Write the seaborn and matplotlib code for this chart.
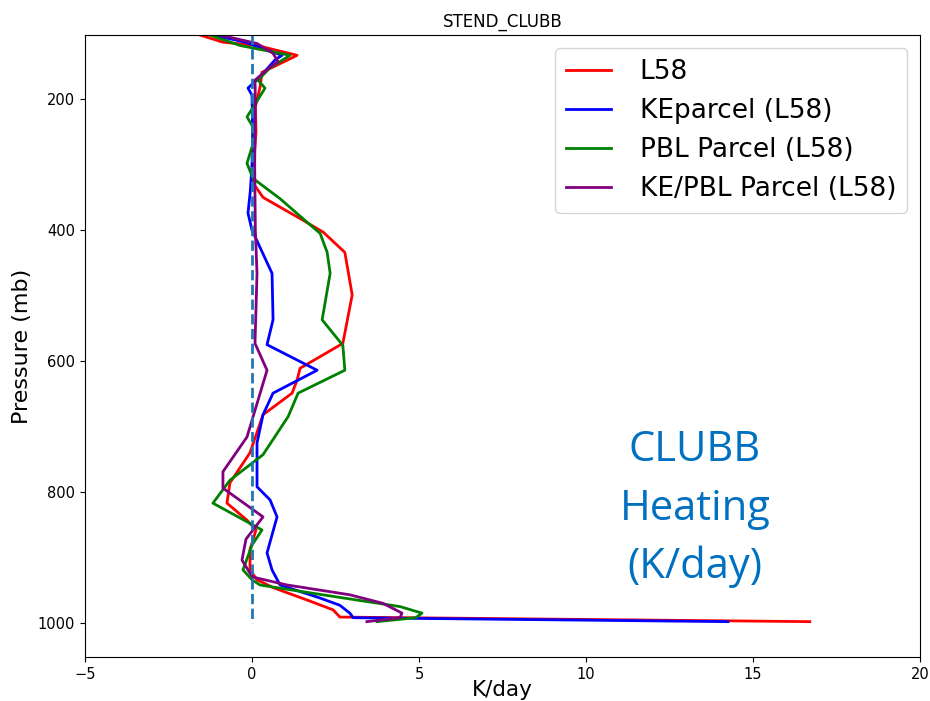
import numpy as np
import pandas as pd
import matplotlib
matplotlib.use("Agg")
import matplotlib.pyplot as plt
import seaborn as sns

series_names = ["L58", "KEparcel (L58)", "PBL Parcel (L58)", "KE/PBL Parcel (L58)"]
series_colors = ["red", "blue", "green", "purple"]

l58_x = [-1.56, -0.87, 0.15, 1.35, 0.75, 0.30, 0.24, 0.10, 0.12, 0.05, 0.03, 0.33, 1.53, 2.13,
         2.78, 3.00, 2.72, 1.44, 1.35, 1.20, 0.33, -0.06, -0.66, -0.75, -0.15, 0.12, -0.06,
         -0.06, 0.15, 0.63, 1.65, 2.43, 2.63, 16.70]
l58_p = [102, 113, 118, 133, 148, 159, 182, 212, 250, 300, 328, 350, 385, 403,
         434, 499, 573, 611, 629, 649, 682, 740, 786, 817, 843, 858, 888,
         919, 934, 946, 965, 980, 991, 998]

ke_x = [-1.17, -0.20, 0.90, 0.69, 0.24, -0.12, 0.00, 0.02, 0.00, -0.05, -0.12, 0.00, 0.60,
        0.63, 0.45, 1.95, 0.63, 0.33, 0.15, 0.15, 0.54, 0.75, 0.45, 0.60, 0.84, 2.04, 2.63,
        2.93, 3.03, 14.25]
ke_p = [102, 113, 133, 140, 166, 183, 194, 250, 300, 340, 374, 400, 466,
        537, 575, 614, 649, 682, 725, 792, 812, 838, 893, 919, 942, 962, 973,
        985, 992, 998]

pbl_x = [-1.26, -0.36, 1.14, 0.54, 0.18, 0.39, 0.09, -0.15, 0.00, 0.09, -0.15, 0.03, 0.84,
         1.65, 2.04, 2.25, 2.34, 2.10, 2.72, 2.78, 1.38, 1.08, 0.33, -0.66, -1.17, 0.30, 0.00,
         -0.27, 0.00, 0.24, 1.23, 3.14, 4.43, 5.09, 4.90, 3.74]
pbl_p = [102, 118, 133, 152, 171, 183, 208, 227, 240, 258, 298, 321, 352,
         388, 405, 434, 466, 537, 576, 614, 649, 685, 743, 782, 817, 858, 881,
         919, 934, 942, 950, 965, 975, 985, 992, 998]

kepbl_x = [-0.96, 0.15, 0.63, 0.78, 0.54, 0.09, 0.10, 0.08, 0.10, 0.15, 0.09, 0.45, -0.15,
           -0.87, -0.87, 0.33, -0.18, -0.30, -0.06, 0.03, 1.05, 2.93, 3.92, 4.49, 4.43, 3.44]
kepbl_p = [102, 115, 130, 143, 151, 171, 200, 300, 400, 466, 573, 614, 716,
           769, 794, 838, 872, 904, 924, 930, 942, 957, 970, 985, 992, 998]

zero_line_x = [0, 0]
zero_line_p = [100, 1000]

x_ticks = [-5, 0, 5, 10, 15, 20]
y_ticks = [200, 400, 600, 800, 1000]

frames = []
for name, xs, ps in zip(series_names,
                        [l58_x, ke_x, pbl_x, kepbl_x],
                        [l58_p, ke_p, pbl_p, kepbl_p]):
    frames.append(pd.DataFrame({"K/day": xs, "Pressure": ps, "run": name,
                                "order": np.arange(len(xs))}))
df = pd.concat(frames, ignore_index=True)

fig = plt.figure(figsize=(9.30, 7.01), dpi=100)
ax = fig.add_axes([85 / 930, 1 - 657 / 701, 835 / 930, 622 / 701])

sns.lineplot(data=df, x="K/day", y="Pressure", hue="run", hue_order=series_names,
             palette=dict(zip(series_names, series_colors)), sort=False,
             estimator=None, orient="y", linewidth=2, ax=ax)

ax.plot(zero_line_x, zero_line_p, linestyle="--", color="#1f77b4", linewidth=2)

ax.set_xlim(-5, 20)
ax.set_ylim(1052, 102)
ax.set_xticks(x_ticks)
ax.set_yticks(y_ticks)
ax.tick_params(labelsize=10.5)
ax.set_xlabel("K/day", fontsize=15.5, labelpad=-1)
ax.set_ylabel("Pressure (mb)", fontsize=16)
ax.set_title("STEND_CLUBB", fontsize=12)

leg = ax.legend(loc="upper right", fontsize=19, handlelength=1.7, handletextpad=1.1)
for line in leg.get_lines():
    line.set_linewidth(2)

blue_txt = "#0070C0"
for txt, yb in [("CLUBB", 461), ("Heating", 520), ("(K/day)", 578)]:
    fig.text(695 / 930, 1 - yb / 701, txt, ha="center", va="baseline",
             fontsize=30, color=blue_txt, family=["Open Sans", "DejaVu Sans"])

fig.savefig("out.png", dpi=100)
